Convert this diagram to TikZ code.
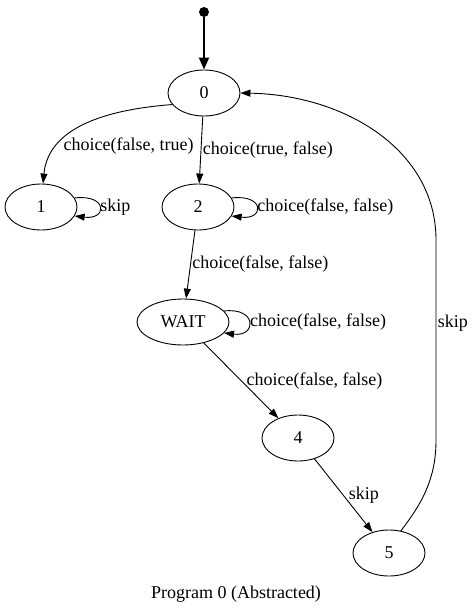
\documentclass[tikz,border=0pt]{standalone}
\usepackage{fontspec}
\setmainfont{Liberation Serif}
\usetikzlibrary{arrows.meta,shapes.geometric}

\tikzset{
    state/.style={ellipse,draw,line width=0.9pt,minimum width=72pt,minimum height=46pt,inner sep=0pt},
    edge/.style={line width=0.9pt,-{Triangle[length=10pt,width=7pt]}},
    lbl/.style={inner sep=1.5pt}
}

\begin{document}
\begin{tikzpicture}[x=1pt,y=-1pt,font=\fontsize{18}{21}\selectfont]
        \useasboundingbox (0,0) rectangle (473,615);

        \coordinate (S) at (204,12);
        \coordinate (A) at (204,93);
        \coordinate (B) at (41,207);
        \coordinate (C) at (198,207);
        \coordinate (D) at (183,322);
        \coordinate (E) at (298,438);
        \coordinate (F) at (389,553);

        \node[circle,fill=black,inner sep=0pt,minimum size=10pt] (start) at (S) {};
        \node[state]                  (s0)   at (A) {0};
        \node[state]                  (s1)   at (B) {1};
        \node[state]                  (s2)   at (C) {2};
        \node[state,minimum width=92pt] (wait) at (D) {WAIT};
        \node[state]                  (s4)   at (E) {4};
        \node[state]                  (s5)   at (F) {5};

        \draw[edge,line width=1.8pt,-{Triangle[length=12pt,width=10pt]}] (start) -- (s0);

        \draw[edge] (s0.200) .. controls (100,110) and (48,130) .. (s1.85)
            node[lbl,pos=0.72,anchor=west,xshift=4pt] {choice(false, true)};
        \draw[edge] (s0) -- (s2) node[lbl,pos=0.5,anchor=west] {choice(true, false)};

        \draw[edge] (s1.15) .. controls +(33,-4) and +(33,4) .. (s1.-15)
            node[lbl,pos=0.5,anchor=west,inner sep=0.5pt] {skip};
        \draw[edge] (s2.15) .. controls +(33,-4) and +(33,4) .. (s2.-15)
            node[lbl,pos=0.5,anchor=west,inner sep=0.5pt] {choice(false, false)};
        \draw[edge] (wait.15) .. controls +(33,-4) and +(33,4) .. (wait.-15)
            node[lbl,pos=0.5,anchor=west,inner sep=1pt] {choice(false, false)};

        \draw[edge] (s2) -- (wait) node[lbl,pos=0.5,anchor=west] {choice(false, false)};
        \draw[edge] (wait) -- (s4) node[lbl,pos=0.5,anchor=west,inner sep=5pt] {choice(false, false)};
        \draw[edge] (s4) -- (s5) node[lbl,pos=0.5,anchor=west,inner sep=5pt] {skip};

        \draw[edge] (s5.62) .. controls (425,500) and (436,475) .. (436,440)
            -- (436,240) node[lbl,pos=0.585,anchor=west] {skip}
            .. controls (436,150) and (345,95) .. (s0.east);

        \node (title) at (236,594) {Program 0 (Abstracted)};
    \end{tikzpicture}
\end{document}
